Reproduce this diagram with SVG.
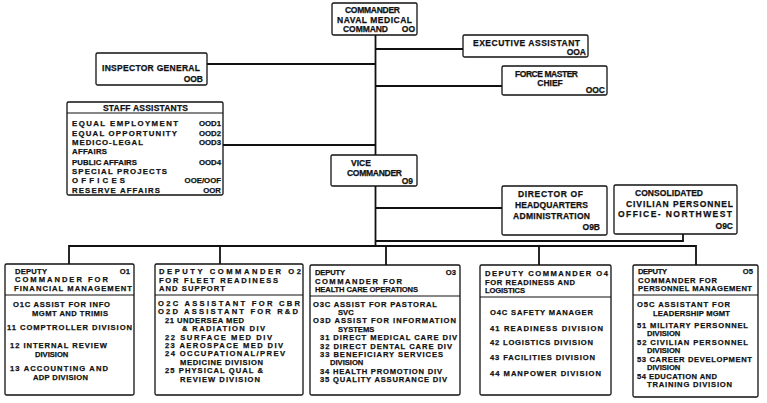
<svg xmlns="http://www.w3.org/2000/svg" width="767" height="403" viewBox="0 0 767 403">
<style>
text{font-family:"Liberation Sans",Arial,sans-serif;font-weight:bold;font-size:8.5px;fill:#111;stroke:#111;stroke-width:0.25}
.d text,text.d{font-size:7.6px}
text.s{font-size:7.8px}
.box{fill:#fff;stroke:#111;stroke-width:1.3}
.sep{stroke:#111;stroke-width:1.1}
.c{text-anchor:middle}
.e{text-anchor:end}
#connectors path{fill:none;stroke:#111;stroke-width:1.8}
</style>
<rect width="767" height="403" fill="#fff"/>
<g id="connectors">
<path d="M375.5 35V155"/>
<path d="M375.5 49H463"/>
<path d="M375.5 86H502"/>
<path d="M207 64H375.5"/>
<path d="M223 145H375.5"/>
<path d="M375.5 186V246"/>
<path d="M375.5 208H502"/>
<path d="M375.5 241H683V234"/>
<path d="M69 264V246H696V265"/>
<path d="M220 246V264"/>
<path d="M386 246V265"/>
<path d="M539 246V265"/>
</g>
<g id="commander">
<rect class="box" x="332" y="3" width="85" height="32" rx="1.5"/>
<text x="345" y="13" textLength="55">COMMANDER</text>
<text x="337" y="23" textLength="75">NAVAL MEDICAL</text>
<text x="343" y="32" textLength="45">COMMAND</text>
<text class="e" x="415" y="32">OO</text>
</g>
<g id="executive-assistant">
<rect class="box" x="463" y="35" width="125" height="22" rx="1.5"/>
<text x="473" y="46" textLength="107">EXECUTIVE ASSISTANT</text>
<text class="e" x="586" y="55">OOA</text>
</g>
<g id="force-master-chief">
<rect class="box" x="502" y="66" width="105" height="29" rx="1.5"/>
<text x="515" y="77" textLength="63">FORCE MASTER</text>
<text class="c" x="550" y="86">CHIEF</text>
<text class="e" x="605" y="93">OOC</text>
</g>
<g id="inspector-general">
<rect class="box" x="96" y="53" width="111" height="32" rx="1.5"/>
<text x="102" y="71" textLength="98">INSPECTOR GENERAL</text>
<text class="e" x="203" y="82">OOB</text>
</g>
<g id="staff-assistants">
<rect class="box" x="67" y="102" width="156" height="93" rx="1.5"/>
<line class="sep" x1="67" y1="113" x2="223" y2="113"/>
<text x="103" y="111" textLength="85">STAFF ASSISTANTS</text>
<text class="s" x="72" y="126" textLength="106">EQUAL EMPLOYMENT</text><text class="s e" x="221" y="126">OOD1</text>
<text class="s" x="72" y="136" textLength="105">EQUAL OPPORTUNITY</text><text class="s e" x="221" y="136">OOD2</text>
<text class="s" x="72" y="145.3" textLength="71">MEDICO-LEGAL</text><text class="s e" x="221" y="145.3">OOD3</text>
<text class="s" x="72" y="154.2" textLength="35">AFFAIRS</text>
<text class="s" x="72" y="164.5" textLength="65">PUBLIC AFFAIRS</text><text class="s e" x="221" y="164.5">OOD4</text>
<text class="s" x="72" y="173.5" textLength="95">SPECIAL PROJECTS</text>
<text class="s" x="72" y="182.6" textLength="53">OFFICES</text><text class="s e" x="221" y="182.6">OOE/OOF</text>
<text class="s" x="72" y="192.5" textLength="88">RESERVE AFFAIRS</text><text class="s e" x="221" y="192.5">OOR</text>
</g>
<g id="vice-commander">
<rect class="box" x="331" y="155" width="86" height="31" rx="1.5"/>
<text class="c" x="361" y="166">VICE</text>
<text x="347" y="176" textLength="55">COMMANDER</text>
<text class="e" x="413" y="184">O9</text>
</g>
<g id="director-hq-admin">
<rect class="box" x="502" y="186" width="105" height="49" rx="1.5"/>
<text x="518" y="197" textLength="65">DIRECTOR OF</text>
<text x="515" y="208" textLength="73">HEADQUARTERS</text>
<text x="513" y="219" textLength="77">ADMINISTRATION</text>
<text class="e" x="600" y="230">O9B</text>
</g>
<g id="consolidated-civilian-personnel">
<rect class="box" x="614" y="185" width="123" height="49" rx="1.5"/>
<text x="635" y="196" textLength="68">CONSOLIDATED</text>
<text x="626" y="206.5" textLength="107">CIVILIAN PERSONNEL</text>
<text x="618" y="217" textLength="114">OFFICE-  NORTHWEST</text>
<text class="e" x="733" y="229">O9C</text>
</g>
<g id="deputy-o1" class="d">
<rect class="box" x="5" y="264" width="129" height="131" rx="1.5"/>
<line class="sep" x1="5" y1="295" x2="134" y2="295"/>
<text x="15" y="273.5" textLength="32">DEPUTY</text><text class="e" x="130" y="273.5">O1</text>
<text x="15" y="282" textLength="93">COMMANDER FOR</text>
<text x="14" y="290.5" textLength="118">FINANCIAL MANAGEMENT</text>
<text x="13" y="307" textLength="97">O1C ASSIST FOR INFO</text>
<text x="32" y="315.5" textLength="76">MGMT AND TRIMIS</text>
<text x="7" y="330" textLength="125">11 COMPTROLLER DIVISION</text>
<text x="10" y="348" textLength="97">12 INTERNAL REVIEW</text>
<text x="35" y="356.5">DIVISION</text>
<text x="10" y="371" textLength="98">13 ACCOUNTING AND</text>
<text x="33" y="379.5" textLength="55">ADP DIVISION</text>
</g>
<g id="deputy-o2" class="d">
<rect class="box" x="155" y="264" width="148" height="131" rx="1.5"/>
<line class="sep" x1="155" y1="295" x2="303" y2="295"/>
<text x="159" y="274.3" textLength="142">DEPUTY COMMANDER O2</text>
<text x="159" y="282.8" textLength="119">FOR FLEET READINESS</text>
<text x="159" y="291.3" textLength="66">AND SUPPORT</text>
<text x="158" y="306" textLength="142">O2C ASSISTANT FOR CBR</text>
<text x="158" y="314.4" textLength="140">O2D ASSISTANT FOR R&amp;D</text>
<text x="165" y="322.8" textLength="79">21 UNDERSEA MED</text>
<text x="182" y="331.2" textLength="83">&amp; RADIATION DIV</text>
<text x="165" y="339.6" textLength="107">22 SURFACE MED DIV</text>
<text x="165" y="348" textLength="118">23 AEROSPACE MED DIV</text>
<text x="165" y="356.4" textLength="120">24 OCCUPATIONAL/PREV</text>
<text x="180" y="364.8" textLength="83">MEDICINE DIVISION</text>
<text x="165" y="373.2" textLength="98">25 PHYSICAL QUAL &amp;</text>
<text x="180" y="381.6" textLength="80">REVIEW DIVISION</text>
</g>
<g id="deputy-o3" class="d">
<rect class="box" x="310" y="265" width="150" height="130" rx="1.5"/>
<line class="sep" x1="310" y1="296" x2="460" y2="296"/>
<text x="315" y="275" textLength="30">DEPUTY</text><text class="e" x="456" y="275">O3</text>
<text x="315" y="283.5" textLength="87">COMMANDER FOR</text>
<text x="315" y="292" textLength="103">HEALTH CARE OPERATIONS</text>
<text x="313" y="306.5" textLength="124">O3C ASSIST FOR  PASTORAL</text>
<text x="338" y="314.9">SVC</text>
<text x="313" y="323.3" textLength="143">O3D ASSIST FOR INFORMATION</text>
<text x="338" y="331.7">SYSTEMS</text>
<text x="320" y="340.1" textLength="137">31 DIRECT MEDICAL CARE DIV</text>
<text x="320" y="348.5" textLength="132">32 DIRECT DENTAL CARE DIV</text>
<text x="320" y="356.9" textLength="123">33 BENEFICIARY SERVICES</text>
<text x="330" y="365.3">DIVISION</text>
<text x="320" y="373.7" textLength="122">34 HEALTH PROMOTION DIV</text>
<text x="320" y="382.1" textLength="127">35 QUALITY ASSURANCE DIV</text>
</g>
<g id="deputy-o4" class="d">
<rect class="box" x="480" y="265" width="131" height="130" rx="1.5"/>
<line class="sep" x1="480" y1="297" x2="611" y2="297"/>
<text x="485" y="276" textLength="123">DEPUTY COMMANDER O4</text>
<text x="485" y="284.5" textLength="90">FOR READINESS AND</text>
<text x="485" y="293" textLength="40">LOGISTICS</text>
<text x="490" y="315" textLength="103">O4C SAFETY MANAGER</text>
<text x="490" y="331" textLength="113">41 READINESS DIVISION</text>
<text x="490" y="345" textLength="103">42 LOGISTICS DIVISION</text>
<text x="490" y="360" textLength="105">43 FACILITIES DIVISION</text>
<text x="490" y="376" textLength="111">44 MANPOWER DIVISION</text>
</g>
<g id="deputy-o5" class="d">
<rect class="box" x="633" y="265" width="125" height="132" rx="1.5"/>
<line class="sep" x1="633" y1="295" x2="758" y2="295"/>
<text x="638" y="274.3" textLength="29">DEPUTY</text><text class="e" x="753" y="274.3">O5</text>
<text x="638" y="282.8" textLength="79">COMMANDER FOR</text>
<text x="638" y="291.3" textLength="114">PERSONNEL MANAGEMENT</text>
<text x="637" y="307" textLength="93">O5C ASSISTANT FOR</text>
<text x="653" y="315.5" textLength="77">LEADERSHIP MGMT</text>
<text x="637" y="327.5" textLength="111">51 MILITARY PERSONNEL</text>
<text x="647" y="336">DIVISION</text>
<text x="637" y="344.5" textLength="111">52 CIVILIAN PERSONNEL</text>
<text x="647" y="353">DIVISION</text>
<text x="637" y="361.5" textLength="115">53 CAREER DEVELOPMENT</text>
<text x="647" y="370">DIVISION</text>
<text x="637" y="378.5" textLength="80">54 EDUCATION AND</text>
<text x="647" y="387" textLength="85">TRAINING DIVISION</text>
</g>
</svg>
